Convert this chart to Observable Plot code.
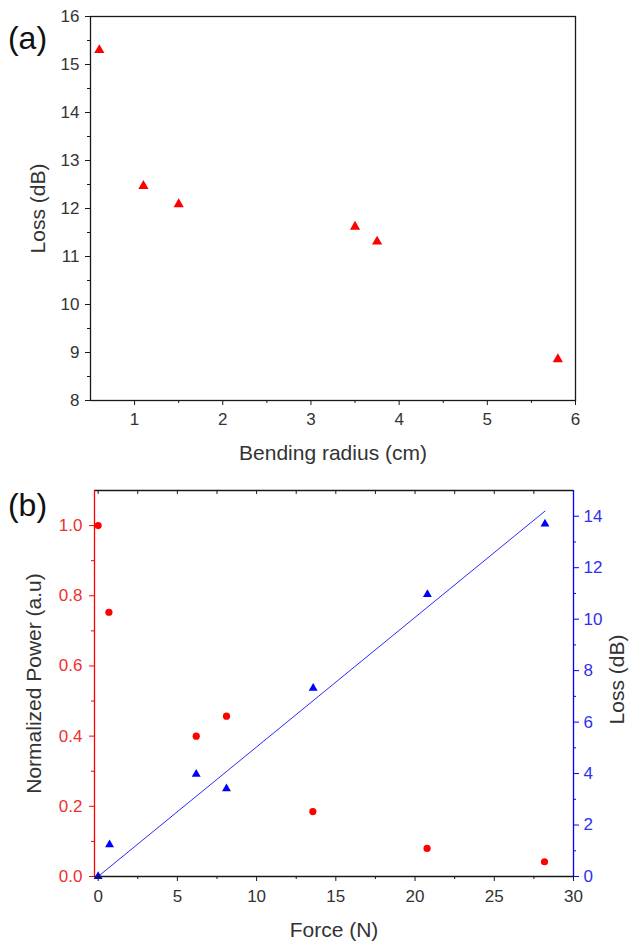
<!DOCTYPE html>
<html><head><meta charset="utf-8">
<script src="https://cdn.jsdelivr.net/npm/d3@7"></script>
<script src="https://cdn.jsdelivr.net/npm/@observablehq/plot@0.6"></script>
<style>
body{margin:0;background:#fff;}
#chart svg{display:block;}
</style></head><body><div id="chart"></div>
<script>
// ---------- Panel (a) data ----------
const radius = [0.6, 1.1, 1.5, 3.5, 3.75, 5.8];
const lossA = [15.3, 12.47, 12.09, 11.62, 11.31, 8.86];
const xTicksA = [1, 2, 3, 4, 5, 6];
const xMinorA = [1.5, 2.5, 3.5, 4.5, 5.5];
const yTicksA = [8, 9, 10, 11, 12, 13, 14, 15, 16];
const yMinorA = [8.5, 9.5, 10.5, 11.5, 12.5, 13.5, 14.5, 15.5];
const xDomainA = [0.5, 6];
const yDomainA = [8, 16];

// ---------- Panel (b) data ----------
const forcePower = [0, 0.68, 6.19, 8.1, 13.55, 20.76, 28.17];
const power = [1.0, 0.753, 0.40, 0.457, 0.185, 0.08, 0.042];
const forceLoss = [0, 0.72, 6.19, 8.1, 13.57, 20.78, 28.2];
const lossB = [0, 1.24, 3.98, 3.41, 7.32, 10.96, 13.7];
const fitForce = [0, 28.2];
const fitLoss = [0, 14.2];
const xTicksB = [0, 5, 10, 15, 20, 25, 30];
const xMinorB = [2.5, 7.5, 12.5, 17.5, 22.5, 27.5];
const xTopTicksB = [0, 2.5, 5, 7.5, 10, 12.5, 15, 17.5, 20, 22.5, 25, 27.5];
const yTicksB = [0, 0.2, 0.4, 0.6, 0.8, 1.0];
const yMinorB = [0.1, 0.3, 0.5, 0.7, 0.9];
const lossTicksB = [0, 2, 4, 6, 8, 10, 12, 14];
const lossMinorB = [1, 3, 5, 7, 9, 11, 13];
const xDomainB = [-0.23, 30];
const yDomainB = [0, 1.1];
const lossMaxB = 15;

// ---------- styling ----------
const red = "#ff0000", blue = "#0000ff", ink = "#1a1a1a", txt = "#333333";
const redTxt = "#ee3030", blueTxt = "#3030ee";
const font = "'Liberation Sans', Arial, sans-serif";
const tickFont = 17, titleFont = 21;
const centered = {textAnchor: "middle", lineAnchor: "middle"};

// ---------- Panel (a) ----------
const dataA = radius.map((r, i) => ({r, loss: lossA[i]}));
const plotA = Plot.plot({
  width: 629, height: 470,
  marginLeft: 90, marginRight: 54, marginTop: 16, marginBottom: 70,
  style: {fontFamily: font, background: "#fff", color: txt, overflow: "visible"},
  x: {domain: xDomainA, label: null},
  y: {domain: yDomainA, label: null},
  marks: [
    Plot.axisX(xTicksA, {tickSize: 5, tickPadding: 7, stroke: ink, fill: txt, fontSize: tickFont, label: null, tickFormat: d3.format("d")}),
    Plot.ruleX(xMinorA, {y1: yDomainA[0], y2: yDomainA[0], insetBottom: -3, stroke: ink}),
    Plot.axisY(yTicksA, {tickSize: 5, tickPadding: 6, stroke: ink, fill: txt, fontSize: tickFont, label: null, tickFormat: d3.format("d")}),
    Plot.ruleY(yMinorA, {x1: xDomainA[0], x2: xDomainA[0], insetLeft: -3, stroke: ink}),
    Plot.dot(dataA, {x: "r", y: "loss", symbol: "triangle", r: 3.8, fill: red}),
    Plot.frame({stroke: ink, strokeWidth: 1.3}),
    Plot.text(["Loss (dB)"], {frameAnchor: "left", dx: -52, rotate: -90, fontSize: titleFont, fill: txt, ...centered}),
    Plot.text(["Bending radius (cm)"], {frameAnchor: "bottom", dy: 53, fontSize: titleFont, fill: txt, ...centered}),
    Plot.text(["(a)"], {frameAnchor: "top-left", dx: -63, dy: 22, fontSize: 32, fill: "#111", ...centered})
  ]
});

// ---------- Panel (b) ----------
const lossToAxis = v => v * yDomainB[1] / lossMaxB;
const powerData = forcePower.map((f, i) => ({f, p: power[i]}));
const lossData = forceLoss.map((f, i) => ({f, l: lossToAxis(lossB[i])}));
const fitData = fitForce.map((f, i) => ({f, l: lossToAxis(fitLoss[i])}));

const plotB = Plot.plot({
  width: 629, height: 472,
  marginLeft: 94, marginRight: 56, marginTop: 20, marginBottom: 66,
  style: {fontFamily: font, background: "#fff", color: txt, overflow: "visible"},
  x: {domain: xDomainB, label: null},
  y: {domain: yDomainB, label: null},
  marks: [
    Plot.line(fitData, {x: "f", y: "l", stroke: "#2a2aff", strokeWidth: 1}),
    Plot.dot(powerData, {x: "f", y: "p", r: 3.6, fill: red}),
    Plot.dot(lossData, {x: "f", y: "l", symbol: "triangle", r: 3.3, fill: blue}),
    // bottom axis
    Plot.ruleY([yDomainB[0]], {stroke: ink, strokeWidth: 1.3}),
    Plot.axisX(xTicksB, {tickSize: 5, tickPadding: 8, stroke: ink, fill: txt, fontSize: tickFont, label: null, tickFormat: d3.format("d")}),
    Plot.ruleX(xMinorB, {y1: yDomainB[0], y2: yDomainB[0], insetBottom: -3, stroke: ink}),
    // top axis
    Plot.ruleY([yDomainB[1]], {stroke: ink, strokeWidth: 1.3}),
    Plot.ruleX(xTopTicksB, {y1: yDomainB[1], y2: yDomainB[1], insetBottom: -4, stroke: ink}),
    // left red axis
    Plot.ruleX([xDomainB[0]], {stroke: red, strokeWidth: 1.3}),
    Plot.axisY(yTicksB, {tickSize: 5, tickPadding: 7, stroke: red, fill: redTxt, fontSize: tickFont, label: null, tickFormat: d3.format(".1f")}),
    Plot.ruleY(yMinorB, {x1: xDomainB[0], x2: xDomainB[0], insetLeft: -3, stroke: red}),
    // right blue axis
    Plot.ruleX([xDomainB[1]], {stroke: blue, strokeWidth: 1.3}),
    Plot.axisY(lossTicksB.map(lossToAxis), {anchor: "right", tickSize: 5, tickPadding: 5, stroke: blue, fill: blueTxt, fontSize: tickFont, label: null, tickFormat: d => String(Math.round(d * lossMaxB / yDomainB[1]))}),
    Plot.ruleY(lossMinorB.map(lossToAxis), {x1: xDomainB[1], x2: xDomainB[1], insetRight: -3, stroke: blue}),
    // titles
    Plot.text(["Normalized Power (a.u)"], {frameAnchor: "left", dx: -60, rotate: -90, fontSize: titleFont, fill: txt, ...centered}),
    Plot.text(["Loss (dB)"], {frameAnchor: "right", dx: 44, dy: -4, rotate: -90, fontSize: titleFont, fill: txt, ...centered}),
    Plot.text(["Force (N)"], {frameAnchor: "bottom", dy: 54, fontSize: titleFont, fill: txt, ...centered}),
    Plot.text(["(b)"], {frameAnchor: "top-left", dx: -67, dy: 15, fontSize: 32, fill: "#111", ...centered})
  ]
});

const chart = document.getElementById("chart");
chart.appendChild(plotA);
chart.appendChild(plotB);
</script>
</body></html>
